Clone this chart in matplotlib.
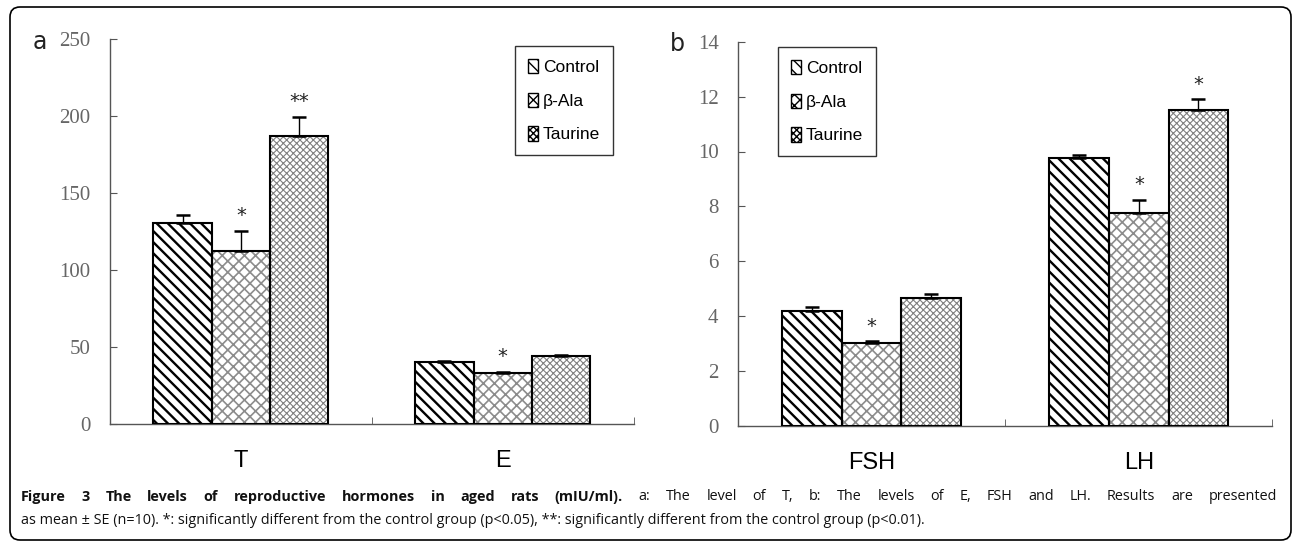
import numpy as np
import matplotlib
matplotlib.use("Agg")
import matplotlib.pyplot as plt
from matplotlib.patches import Patch, FancyBboxPatch
from matplotlib.transforms import IdentityTransform

# ---- data ----
groups = ["Control", "β-Ala", "Taurine"]

cats_a = ["T", "E"]
mean_a = {"Control": [130.7, 40.0], "β-Ala": [112.3, 33.1], "Taurine": [187.0, 44.0]}
se_a = {"Control": [4.8, 1.0], "β-Ala": [13.0, 0.7], "Taurine": [12.5, 1.0]}
sig_a = {"Control": ["", ""], "β-Ala": ["*", "*"], "Taurine": ["**", ""]}

cats_b = ["FSH", "LH"]
mean_b = {"Control": [4.19, 9.77], "β-Ala": [3.02, 7.77], "Taurine": [4.65, 11.50]}
se_b = {"Control": [0.14, 0.10], "β-Ala": [0.06, 0.46], "Taurine": [0.16, 0.40]}
sig_b = {"Control": ["", ""], "β-Ala": ["*", "*"], "Taurine": ["", "*"]}

caption_bold = "Figure 3 The levels of reproductive hormones in aged rats (mIU/ml)."
caption_rest1 = "a: The level of T, b: The levels of E, FSH and LH. Results are presented"
caption_line2 = ("as mean ± SE (n=10). *: significantly different from the control group (p<0.05), "
                 "**: significantly different from the control group (p<0.01).")

# hatch styles per group
hatches = {"Control": ("\\\\\\", "black", 1.7),
           "β-Ala": ("xxx", "#8c8c8c", 1.2),
           "Taurine": ("xxxxx", "#808080", 0.8)}

W, H = 1293, 542
fig = plt.figure(figsize=(W / 100, H / 100), dpi=100)

sans = ["Liberation Sans", "DejaVu Sans"]
serif = ["Liberation Serif", "DejaVu Serif"]


def draw_panel(ax, cats, means, ses, sigs, ymax, yticks, legend_xy):
    w = 0.223
    x = np.arange(len(cats))
    for i, g in enumerate(groups):
        pos = x + (i - 1) * w
        hatch, hcol, hlw = hatches[g]
        with plt.rc_context({"hatch.linewidth": hlw}):
            ax.bar(pos, means[g], w, color="white", edgecolor=hcol, hatch=hatch, linewidth=0, zorder=2)
        ax.bar(pos, means[g], w, fill=False, edgecolor="black", linewidth=1.5, zorder=3)
        ax.errorbar(pos, means[g], yerr=[np.zeros(len(cats)), ses[g]], fmt="none",
                    ecolor="black", elinewidth=1, capsize=5, capthick=1.8, zorder=4)
        for p, m, s, star in zip(pos, means[g], ses[g], sigs[g]):
            if star:
                ax.annotate(star, (p, m + s), xytext=(0, 7), textcoords="offset points",
                            ha="center", va="baseline", fontsize=14, color="#222")

    ax.set_xlim(-0.5, len(cats) - 0.5)
    ax.set_ylim(0, ymax)
    ax.set_yticks(yticks)
    ax.set_xticks(x)
    ax.set_xticklabels(cats, family=sans, fontsize=17)
    ax.set_xticks(np.arange(len(cats)) + 0.5, minor=True)
    ax.tick_params(axis="x", which="major", length=0, pad=19)
    ax.tick_params(axis="x", which="minor", direction="in", length=5, color="#555")
    ax.tick_params(axis="y", direction="in", length=5, color="#555", labelcolor="#666",
                   labelsize=15, pad=14)
    for lab in ax.get_yticklabels():
        lab.set_family(serif)
    for s in ["top", "right"]:
        ax.spines[s].set_visible(False)
    for s in ["left", "bottom"]:
        ax.spines[s].set_color("#555")
        ax.spines[s].set_linewidth(1.0)

    handles = [Patch(facecolor="white", edgecolor="black", hatch=hatches[g][0], linewidth=1) for g in groups]
    leg = ax.legend(handles, groups, loc="upper left", bbox_to_anchor=legend_xy,
                    bbox_transform=fig.transFigure, frameon=True, fancybox=False,
                    edgecolor="black", handlelength=0.6, handleheight=0.9, handletextpad=0.25,
                    labelspacing=1.0, borderpad=0.75, borderaxespad=0,
                    prop={"family": sans, "size": 12.5})
    leg.get_frame().set_linewidth(1.0)


ax_a = fig.add_axes([110 / W, 1 - 424 / H, 523.6 / W, 385 / H])
draw_panel(ax_a, cats_a, mean_a, se_a, sig_a, 250, np.arange(0, 251, 50), (515 / W, 1 - 46 / H))

ax_b = fig.add_axes([738 / W, 1 - 426 / H, 534.5 / W, 384.3 / H])
draw_panel(ax_b, cats_b, mean_b, se_b, sig_b, 14, np.arange(0, 15, 2), (778 / W, 1 - 47 / H))

fig.text(40 / W, 1 - 42 / H, "a", fontsize=17, ha="center", va="center", color="#222")
fig.text(677 / W, 1 - 44 / H, "b", fontsize=17, ha="center", va="center", color="#222")

# rounded frame around the whole figure
frame = FancyBboxPatch((10, 2), 1281, 533, boxstyle="round,pad=0,rounding_size=10",
                       transform=IdentityTransform(), fill=False, edgecolor="black", linewidth=1.2)
fig.patches.append(frame)

# caption, first line justified
renderer = fig.canvas.get_renderer()
words = [(w_, True) for w_ in caption_bold.split()] + [(w_, False) for w_ in caption_rest1.split()]
texts = []
for word, bold in words:
    texts.append(fig.text(0, 1 - 497 / H, word, fontsize=10.4, family="Open Sans",
                          fontweight="bold" if bold else "normal", va="center", color="#111"))
widths = [t.get_window_extent(renderer).width for t in texts]
x0, x1 = 21, 1277
gap = (x1 - x0 - sum(widths)) / (len(texts) - 1)
xc = x0
for t, wd in zip(texts, widths):
    t.set_x(xc / W)
    xc += wd + gap

fig.text(21 / W, 1 - 520 / H, caption_line2, fontsize=10.4, family="Open Sans", va="center", color="#111")

fig.savefig("out.png", dpi=100)
